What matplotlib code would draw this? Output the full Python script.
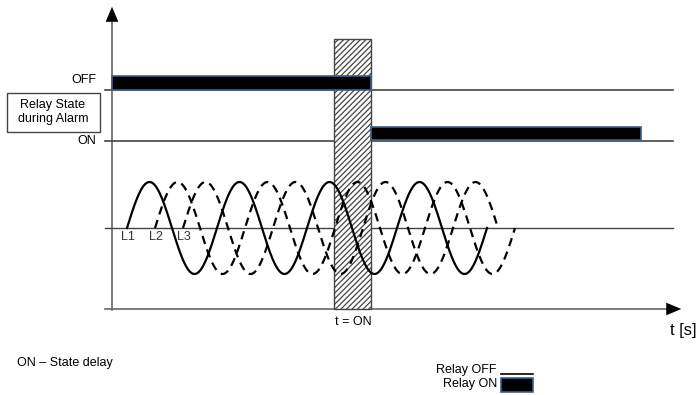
import numpy as np
import matplotlib.pyplot as plt
from matplotlib.patches import Rectangle

plt.rcParams['font.family'] = ['Liberation Sans', 'DejaVu Sans']
plt.rcParams['hatch.linewidth'] = 0.9

# diagram values (pixel units of the drawing)
phase_names = ['L1', 'L2', 'L3']
phase_start = [127, 155, 183]
phase_end = [487, 515, 498]
phase_style = ['-', '--', '--']
period = 90
amplitude = 46
baseline = 228

off_level = 90
on_level = 141
relay_off_span = [112, 371]
relay_on_span = [371, 641]
delay_span = [334, 371]

fig = plt.figure(figsize=(6.98, 3.95), dpi=100)
ax = fig.add_axes([0, 0, 1, 1])
ax.set_xlim(0, 698)
ax.set_ylim(395, 0)
ax.axis('off')

grey = '#666666'
head = '-|>,head_length=0.9,head_width=0.38'

# axes with arrows
ax.plot([112, 112], [310, 18], color=grey, lw=1.2)
ax.annotate('', xy=(112, 4), xytext=(112, 22),
            arrowprops=dict(arrowstyle=head, color='black', lw=0, mutation_scale=12))
ax.plot([105, 670], [309, 309], color=grey, lw=1.2)
ax.annotate('', xy=(684, 309), xytext=(666, 309),
            arrowprops=dict(arrowstyle=head, color='black', lw=0, mutation_scale=12))
ax.text(697, 330, 't [s]', ha='right', va='center', fontsize=12)

# level lines
ax.plot([105, 673], [off_level, off_level], color='#444444', lw=1.2)
ax.plot([105, 673], [on_level, on_level], color='#444444', lw=1.2)
ax.plot([105, 673], [baseline, baseline], color='#444444', lw=1.0)
ax.text(96, 80, 'OFF', ha='right', va='center', fontsize=9)
ax.text(96, 141, 'ON', ha='right', va='center', fontsize=9)

ax.add_patch(Rectangle((7, 93), 93, 39, fill=False, edgecolor='#444444', lw=1))
ax.text(53, 112, 'Relay State\nduring Alarm', ha='center', va='center', fontsize=9,
        linespacing=1.3)

# state delay hatch
ax.add_patch(Rectangle((delay_span[0], 39), delay_span[1] - delay_span[0], 270,
                       facecolor='white', edgecolor='#444444', hatch='//////', lw=1, zorder=3))
ax.text(353, 322, 't = ON', ha='center', va='center', fontsize=9)

# relay bars
ax.add_patch(Rectangle((relay_off_span[0], 76), relay_off_span[1] - relay_off_span[0], 14,
                       facecolor='black', edgecolor='#3d5f8f', lw=1.2, zorder=4))
ax.add_patch(Rectangle((relay_on_span[0], 127), relay_on_span[1] - relay_on_span[0], 13,
                       facecolor='black', edgecolor='#3d5f8f', lw=1.2, zorder=4))

# phase waves
for name, x0, x1, ls in zip(phase_names, phase_start, phase_end, phase_style):
    x = np.linspace(x0, x1, 600)
    y = baseline - amplitude * np.sin(2 * np.pi * (x - x0) / period)
    if ls == '-':
        ax.plot(x, y, color='black', lw=1.6, zorder=5)
    else:
        ax.plot(x, y, color='black', lw=1.6, dashes=(3.8, 2.6), zorder=5)
    ax.text(x0 + 1, 237, name, ha='center', va='center', fontsize=9, color='#333333', zorder=6)

ax.text(17, 363, 'ON \u2013 State delay', ha='left', va='center', fontsize=9)

# legend
ax.text(497, 370, 'Relay OFF', ha='right', va='center', fontsize=9)
ax.plot([501, 533], [374, 374], color='black', lw=1.2)
ax.text(497, 384, 'Relay ON', ha='right', va='center', fontsize=9)
ax.add_patch(Rectangle((501, 378), 32, 14, facecolor='black', edgecolor='#3d5f8f', lw=1.2))

fig.savefig('out.png', dpi=100)
